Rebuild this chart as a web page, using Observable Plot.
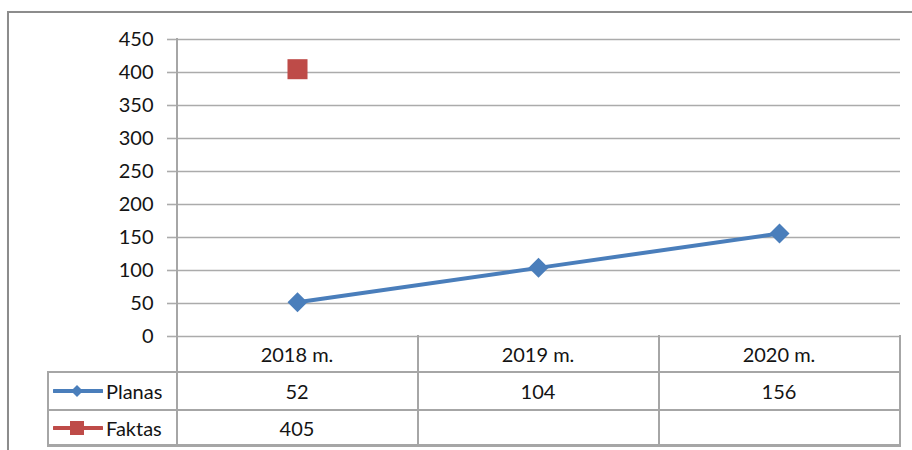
<!DOCTYPE html>
<html>
<head>
<meta charset="utf-8">
<script src="https://cdn.jsdelivr.net/npm/d3@7"></script>
<script src="https://cdn.jsdelivr.net/npm/@observablehq/plot@0.6"></script>
<style>
  html, body { margin: 0; padding: 0; background: #fff; }
  #wrap { position: relative; width: 912px; height: 450px; overflow: hidden; background: #fff; font-family: Lato, "Open Sans", sans-serif; color: #141414; }
  #frame { position: absolute; left: 7px; top: 11px; width: 1000px; height: 1000px; border: 2px solid #8c8c8c; box-shadow: 1px 1px 2px rgba(0,0,0,0.15); }
  #chart { position: absolute; left: 0; top: 0; }
  .ln { position: absolute; background: #a6a6a6; z-index: 5; }
  .cell { position: absolute; display: flex; align-items: center; justify-content: center; font-size: 20px; white-space: nowrap; z-index: 3; }
  .cell.leg { justify-content: flex-start; }
  .cell.leg svg { margin-right: 3px; }
</style>
</head>
<body>
<div id="wrap">
  <div id="frame"></div>
  <div id="chart"></div>
</div>
<script>
const categories = ["2018 m.", "2019 m.", "2020 m."];
const planas = [52, 104, 156];
const faktas = [405, null, null];
const yTicks = [0, 50, 100, 150, 200, 250, 300, 350, 400, 450];
const seriesNames = ["Planas", "Faktas"];
const seriesColors = ["#4a7ebb", "#be4b48"];

const rows = categories.map((c, i) => ({cat: c, planas: planas[i], faktas: faktas[i]}));

const chart = Plot.plot({
  width: 912,
  height: 340,
  marginLeft: 175,
  marginRight: 12,
  marginTop: 39,
  marginBottom: 4,
  style: {fontFamily: "Lato, 'Open Sans', sans-serif", fontSize: "20px", color: "#141414", background: "transparent", overflow: "visible"},
  x: {type: "point", domain: categories, padding: 0.5, axis: null},
  y: {domain: [0, 450], axis: null},
  marks: [
    Plot.gridY(yTicks, {stroke: "#ababab", strokeOpacity: 1, strokeWidth: 1.6}),
    Plot.axisY(yTicks, {tickSize: 8, tickPadding: 14, stroke: "#ababab", strokeWidth: 1.6, strokeOpacity: 1, fill: "#141414", fontSize: 20, label: null}),
    Plot.line(rows, {x: "cat", y: "planas", stroke: seriesColors[0], strokeWidth: 4}),
    Plot.dot(rows, {x: "cat", y: "planas", symbol: "diamond2", r: 9, fill: seriesColors[0], stroke: "none"}),
    Plot.dot(rows.filter(d => d.faktas != null), {x: "cat", y: "faktas", symbol: "square", r: 11.3, fill: seriesColors[1], stroke: "none"})
  ]
});
document.getElementById("chart").appendChild(chart);

// Data table under the plot, aligned to the x and y scales
const wrap = document.getElementById("wrap");
const xs = chart.scale("x");
const ys = chart.scale("y");
const step = xs.apply(categories[1]) - xs.apply(categories[0]);
const left0 = xs.apply(categories[0]) - step / 2;
const right0 = left0 + categories.length * step;
const yTop = ys.apply(yTicks[yTicks.length - 1]);
const yZero = ys.apply(0);
const tblLeft = 48;
const rowEdges = [yZero, yZero + 36, yZero + 74, yZero + 109];

function line(x, y, w, h) {
  const d = document.createElement("div");
  d.className = "ln";
  d.style.left = Math.round(x) + "px"; d.style.top = Math.round(y) + "px";
  d.style.width = Math.round(w) + "px"; d.style.height = Math.round(h) + "px";
  wrap.appendChild(d);
  return d;
}
function cell(x, y, w, h, content, cls) {
  const d = document.createElement("div");
  d.className = "cell" + (cls ? " " + cls : "");
  d.style.left = x + "px"; d.style.top = y + "px";
  d.style.width = w + "px"; d.style.height = h + "px";
  d.innerHTML = content;
  wrap.appendChild(d);
}

function swatch(i) {
  const c = seriesColors[i];
  const shape = i === 0
    ? `<path d="M24,4 L30,10 L24,16 L18,10 Z" fill="${c}"/>`
    : `<rect x="17" y="3" width="14" height="14" fill="${c}"/>`;
  return `<svg width="50" height="20"><line x1="1" x2="49" y1="10" y2="10" stroke="${c}" stroke-width="4" stroke-linecap="round"/>${shape}</svg>`;
}

categories.forEach((c, j) => cell(left0 + j * step, rowEdges[0], step, rowEdges[1] - rowEdges[0], c));
const series = [planas, faktas];
series.forEach((vals, i) => {
  const y0 = rowEdges[i + 1], h = rowEdges[i + 2] - rowEdges[i + 1];
  cell(tblLeft + 5, y0, left0 - tblLeft - 5, h, swatch(i) + seriesNames[i], "leg");
  vals.forEach((v, j) => cell(left0 + j * step, y0, step, h, v == null ? "" : String(v)));
});

// grid lines of the table (drawn last, on top)
line(left0 - 1, yTop - 1, 2, rowEdges[3] - yTop + 2);
for (let k = 1; k <= categories.length; k++) line(left0 + k * step - 1, yZero - 1, 2, rowEdges[3] - yZero + 2);
line(tblLeft - 1, rowEdges[1] - 1, 2, rowEdges[3] - rowEdges[1] + 2);
rowEdges.slice(1).forEach((ry, r) => line(tblLeft - 1, ry - 1, right0 - tblLeft + 2, r === 2 ? 3 : 2));
</script>
</body>
</html>
